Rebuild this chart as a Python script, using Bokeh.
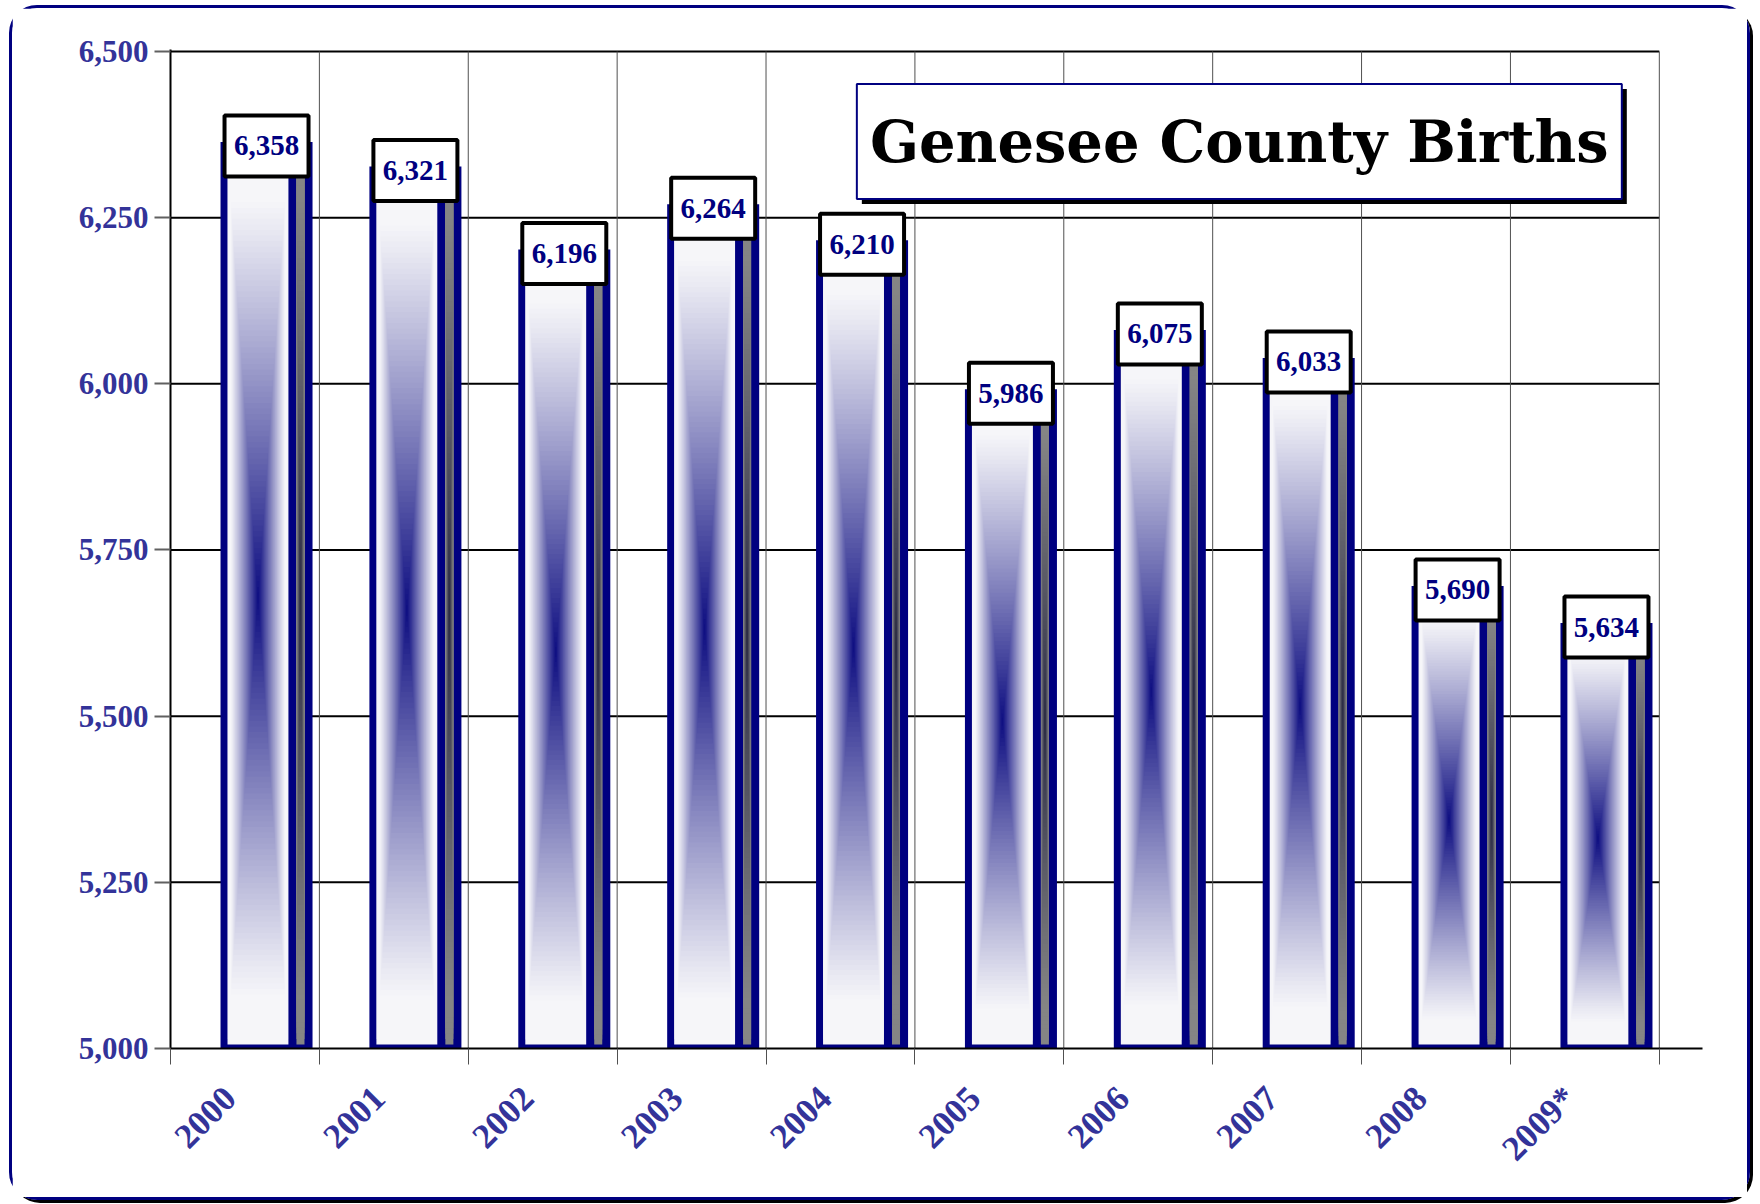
import math
from bokeh.plotting import figure
from bokeh.models import FixedTicker, Range1d
from bokeh.core.properties import value
from bokeh.embed import file_html
from bokeh.resources import INLINE

# ---- data ----
years = ["2000", "2001", "2002", "2003", "2004", "2005", "2006", "2007", "2008", "2009*"]
births = [6358, 6321, 6196, 6264, 6210, 5986, 6075, 6033, 5690, 5634]
y_ticks = [5000, 5250, 5500, 5750, 6000, 6250, 6500]
y_tick_labels = ["5,000", "5,250", "5,500", "5,750", "6,000", "6,250", "6,500"]
title_text = "Genesee County Births"

# ---- geometry (px per data unit) ----
PX_X = 148.9
PX_Y = 997.0 / 1500.0
X_END = 10.29
Y0, Y1 = 5000, 6503
FW = round(X_END * PX_X)
FH = round((Y1 - Y0) * PX_Y)

NAVY = "#000080"
LABEL_BLUE = "#333399"
SERIF = "Liberation Serif"

p = figure(output_backend="svg", toolbar_location=None,
           frame_width=FW, frame_height=FH,
           x_range=Range1d(0, X_END), y_range=Range1d(Y0, Y1),
           min_border_left=158, min_border_right=45,
           min_border_top=41, min_border_bottom=149)
p.outline_line_color = None
p.xgrid.visible = False
p.ygrid.visible = False
p.background_fill_color = "white"
p.border_fill_color = "white"
p.styles = {"border": "3px solid #000080", "border-radius": "28px",
            "box-shadow": "3px 3px 0px #000000",
            "margin-left": "9px", "margin-top": "5px"}

n = len(years)

# ---- grid lines ----
p.segment(x0=[0] * (len(y_ticks) - 1), x1=[n] * (len(y_ticks) - 1),
          y0=y_ticks[1:], y1=y_ticks[1:], line_color="black", line_width=2)
p.segment(x0=list(range(1, n + 1)), x1=list(range(1, n + 1)),
          y0=[y_ticks[0]] * n, y1=[y_ticks[-1]] * n, line_color="#505050", line_width=1)

# ---- axes ----
yax = p.yaxis[0]
yax.ticker = FixedTicker(ticks=y_ticks)
yax.major_label_overrides = {t: l for t, l in zip(y_ticks, y_tick_labels)}
yax.major_tick_out = 16
yax.major_tick_in = 0
yax.major_tick_line_color = "#606060"
yax.major_tick_line_width = 2
yax.minor_tick_line_color = None
yax.axis_line_color = "black"
yax.axis_line_width = 2
yax.major_label_text_font = SERIF
yax.major_label_text_font_style = "bold"
yax.major_label_text_font_size = "31px"
yax.major_label_text_color = LABEL_BLUE
yax.major_label_standoff = 6

label_pos = [round(i + 0.40, 3) for i in range(n)]
xax = p.xaxis[0]
xax.ticker = FixedTicker(ticks=label_pos, minor_ticks=list(range(n + 1)))
xax.major_label_overrides = {pos: yr for pos, yr in zip(label_pos, years)}
xax.major_tick_line_color = None
xax.minor_tick_out = 16
xax.minor_tick_in = 0
xax.minor_tick_line_color = "#505050"
xax.minor_tick_line_width = 1
xax.axis_line_color = "black"
xax.axis_line_width = 2
xax.major_label_orientation = math.pi / 4
xax.major_label_text_font = SERIF
xax.major_label_text_font_style = "bold"
xax.major_label_text_font_size = "35px"
xax.major_label_text_color = LABEL_BLUE
xax.major_label_standoff = 28


def hexmix(c1, c2, t):
    a = [int(c1[i:i + 2], 16) for i in (1, 3, 5)]
    b = [int(c2[i:i + 2], 16) for i in (1, 3, 5)]
    return "#%02x%02x%02x" % tuple(round(a[j] + (b[j] - a[j]) * t) for j in range(3))


# ---- bars ----
dx = 1.0 / PX_X
dy = 1.0 / PX_Y
out_l, out_r, out_t, out_b = [], [], [], []
for i, v in enumerate(births):
    out_l.append(i + 0.336)
    out_r.append(i + 0.954)
    out_t.append(v + 4 * dy)
    out_b.append(Y0 - 4 * dy)
p.quad(left=out_l, right=out_r, top=out_t, bottom=out_b,
       fill_color=NAVY, line_color=None)

LEVELS = 80
g_l, g_r, g_t, g_b, g_c = [], [], [], [], []


def add_gradient(x0, x1, y0, y1, edge, center, spread):
    cx, cy = (x0 + x1) / 2, (y0 + y1) / 2
    hw, hh = (x1 - x0) / 2, (y1 - y0) / 2
    for k in range(LEVELS):
        m = 1.0 - k / LEVELS
        inten = max(0.0, min(1.0, (spread - m) / spread)) ** 1.1
        g_l.append(cx - hw * m)
        g_r.append(cx + hw * m)
        g_b.append(cy - hh * m)
        g_t.append(cy + hh * m)
        g_c.append(hexmix(edge, center, inten))


for i, v in enumerate(births):
    top = v - 6 * dy
    bot = Y0 + 4 * dy
    add_gradient(i + 0.383, i + 0.792, bot, top, "#f6f6f9", "#0c0c80", 0.9)
    add_gradient(i + 0.846, i + 0.900, bot, top, "#858585", "#2a2a44", 0.9)

p.quad(left=g_l, right=g_r, top=g_t, bottom=g_b, fill_color=g_c, line_color=None)

# ---- value labels ----
centers = [i + 0.645 for i in range(n)]
val_text = ["{:,}".format(v) for v in births]
p.rect(x=centers, y=births, width=84, height=61, width_units="screen", height_units="screen",
       fill_color="white", line_color="black", line_width=4)
p.text(x=centers, y=births, text=val_text, text_align="center", text_baseline="middle",
       text_font=value(SERIF), text_font_style="bold", text_font_size="29px", text_color=NAVY)

# ---- title box ----
tl, tr, tt, tb = 4.61, 9.748, 6451, 6278
p.quad(left=[tl + 5 * dx], right=[tr + 5 * dx], top=[tt - 5 * dy], bottom=[tb - 5 * dy],
       fill_color="black", line_color=None)
p.quad(left=[tl], right=[tr], top=[tt], bottom=[tb],
       fill_color="white", line_color=NAVY, line_width=2)
p.text(x=[(tl + tr) / 2], y=[(tt + tb) / 2], text=[title_text], text_align="center",
       text_baseline="middle", text_font=value("DejaVu Serif"), text_font_style="bold",
       text_font_size="57.5px", text_color="black")

open("out.html", "w").write(file_html(p, INLINE))
